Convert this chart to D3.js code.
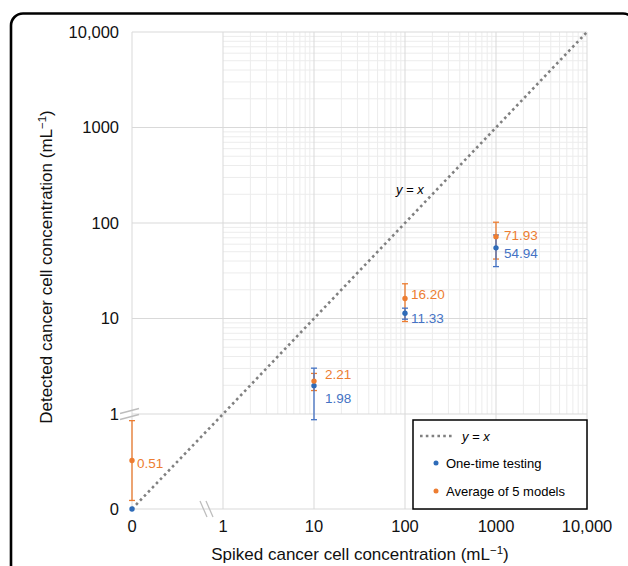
<!DOCTYPE html>
<html>
<head>
<meta charset="utf-8">
<script src="https://cdn.jsdelivr.net/npm/d3@7/dist/d3.min.js"></script>
<style>
  html, body { margin: 0; padding: 0; background: #fff; }
  svg { display: block; font-family: "Liberation Sans", Arial, sans-serif; }
</style>
</head>
<body>
<svg id="chart" width="628" height="566"></svg>
<script>
// ---- data ----
const spiked = [0, 10, 100, 1000];
const oneTime = [0, 1.98, 11.33, 54.94];
const oneTimeErr = [0, 1.04, 1.5, 20];
const avgModels = [0.51, 2.21, 16.20, 71.93];
const avgModelsErr = [0.42, 0.45, 6.9, 30];
const oneTimeLabels = ["", "1.98", "11.33", "54.94"];
const avgLabels = ["0.51", "2.21", "16.20", "71.93"];
const xTicks = [0, 1, 10, 100, 1000, 10000];
const xTickLabels = ["0", "1", "10", "100", "1000", "10,000"];
const yTicks = [0, 1, 10, 100, 1000, 10000];
const yTickLabels = ["0", "1", "10", "100", "1000", "10,000"];
const identityLine = [0, 1, 10000];
const legendLabels = ["y = x", "One-time testing", "Average of 5 models"];

// ---- layout / style ----
const blue = "#4472C4", blueDot = "#2E6BB8", orange = "#ED7D31";
const pLeft = 132, pBrkX = 223, pRight = 587, pTop = 32, pBrkY = 414, pBottom = 509;
// per-label offsets (layout)
const avgLabelOff = [[5, 3], [11, -7], [6, -4], [8, -1]];
const oneLabelOff = [[0, 0], [11, 13], [6, 5], [8, 5]];

const svg = d3.select("#chart");

// piecewise scales: linear 0..1, log 1..10000
const xLin = d3.scaleLinear().domain([0, 1]).range([pLeft, pBrkX]);
const xLog = d3.scaleLog().domain([1, 10000]).range([pBrkX, pRight]);
const yLin = d3.scaleLinear().domain([0, 1]).range([pBottom, pBrkY]);
const yLog = d3.scaleLog().domain([1, 10000]).range([pBrkY, pTop]);
const x = v => v <= 1 ? xLin(v) : xLog(v);
const y = v => v <= 1 ? yLin(v) : yLog(v);

// frame
svg.append("rect").attr("x", 11).attr("y", 13.5).attr("width", 624).attr("height", 600)
  .attr("rx", 12).attr("fill", "none").attr("stroke", "#000").attr("stroke-width", 2.6);

// minor grid
const minors = [];
[1, 10, 100, 1000].forEach(d => { for (let k = 2; k <= 9; k++) minors.push(k * d); });
const g = svg.append("g");
g.selectAll(".mv").data(minors).join("line")
  .attr("x1", d => x(d)).attr("x2", d => x(d)).attr("y1", pTop).attr("y2", pBrkY)
  .attr("stroke", "#ececec").attr("stroke-width", 1);
g.selectAll(".mh").data(minors).join("line")
  .attr("y1", d => y(d)).attr("y2", d => y(d)).attr("x1", pBrkX).attr("x2", pRight)
  .attr("stroke", "#ececec").attr("stroke-width", 1);
// major grid
g.selectAll(".Mv").data(xTicks).join("line")
  .attr("x1", d => x(d)).attr("x2", d => x(d)).attr("y1", pTop).attr("y2", pBottom)
  .attr("stroke", "#d9d9d9").attr("stroke-width", 1);
g.selectAll(".Mh").data(yTicks).join("line")
  .attr("y1", d => y(d)).attr("y2", d => y(d)).attr("x1", pLeft).attr("x2", pRight)
  .attr("stroke", "#d9d9d9").attr("stroke-width", 1);

// axis break marks
const bm = svg.append("g").attr("stroke", "#bdbdbd").attr("stroke-width", 1.3);
[-3, 3].forEach(o => {
  bm.append("line").attr("x1", 120).attr("y1", pBrkY + o + 2.5).attr("x2", 139).attr("y2", pBrkY + o - 2.5);
  bm.append("line").attr("x1", 203 + o).attr("y1", pBottom - 8).attr("x2", 210 + o).attr("y2", pBottom + 8);
});

// identity line
svg.append("path")
  .attr("d", d3.line().x(d => x(d)).y(d => y(d))(identityLine))
  .attr("fill", "none").attr("stroke", "#808080").attr("stroke-width", 2.6)
  .attr("stroke-dasharray", "2.6,3.2");
svg.append("text").attr("x", 396).attr("y", 194).attr("font-size", 13).attr("font-style", "italic")
  .attr("fill", "#000").text(legendLabels[0]);

// error bars
function errBars(vals, errs, color, cls) {
  const idx = d3.range(vals.length).filter(i => errs[i] > 0);
  const eg = svg.append("g").attr("stroke", color).attr("stroke-width", 1.3);
  eg.selectAll("." + cls + "v").data(idx).join("line")
    .attr("x1", i => x(spiked[i])).attr("x2", i => x(spiked[i]))
    .attr("y1", i => y(vals[i] + errs[i])).attr("y2", i => y(vals[i] - errs[i]));
  eg.selectAll("." + cls + "t").data(idx).join("line")
    .attr("x1", i => x(spiked[i]) - 3).attr("x2", i => x(spiked[i]) + 3)
    .attr("y1", i => y(vals[i] + errs[i])).attr("y2", i => y(vals[i] + errs[i]));
  eg.selectAll("." + cls + "b").data(idx).join("line")
    .attr("x1", i => x(spiked[i]) - 3).attr("x2", i => x(spiked[i]) + 3)
    .attr("y1", i => y(vals[i] - errs[i])).attr("y2", i => y(vals[i] - errs[i]));
}
errBars(avgModels, avgModelsErr, orange, "ea");
errBars(oneTime, oneTimeErr, blue, "eo");

// markers
svg.append("g").selectAll("circle").data(d3.range(spiked.length)).join("circle")
  .attr("cx", i => x(spiked[i])).attr("cy", i => y(oneTime[i])).attr("r", 2.7).attr("fill", blueDot);
svg.append("g").selectAll("circle").data(d3.range(spiked.length)).join("circle")
  .attr("cx", i => x(spiked[i])).attr("cy", i => y(avgModels[i])).attr("r", 2.7).attr("fill", orange);

// data labels
svg.append("g").selectAll("text").data(d3.range(spiked.length)).join("text")
  .attr("x", i => x(spiked[i]) + avgLabelOff[i][0]).attr("y", i => y(avgModels[i]) + avgLabelOff[i][1])
  .attr("dy", "0.35em").attr("font-size", 13.5).attr("fill", orange).text(i => avgLabels[i]);
svg.append("g").selectAll("text").data(d3.range(spiked.length).filter(i => oneTimeLabels[i])).join("text")
  .attr("x", i => x(spiked[i]) + oneLabelOff[i][0]).attr("y", i => y(oneTime[i]) + oneLabelOff[i][1])
  .attr("dy", "0.35em").attr("font-size", 13.5).attr("fill", blue).text(i => oneTimeLabels[i]);

// tick labels
svg.append("g").selectAll("text").data(yTicks).join("text")
  .attr("x", 119).attr("y", d => y(d)).attr("dy", "0.36em").attr("text-anchor", "end")
  .attr("font-size", 16.5).attr("fill", "#111").text((d, i) => yTickLabels[i]);
svg.append("g").selectAll("text").data(xTicks).join("text")
  .attr("x", d => x(d)).attr("y", 532).attr("text-anchor", "middle")
  .attr("font-size", 16.5).attr("fill", "#111").text((d, i) => xTickLabels[i]);

// axis titles
const xt = svg.append("text").attr("x", 360).attr("y", 560).attr("text-anchor", "middle")
  .attr("font-size", 17).attr("fill", "#111");
xt.append("tspan").text("Spiked cancer cell concentration (mL");
xt.append("tspan").attr("dy", -6).attr("font-size", 11.5).text("\u22121");
xt.append("tspan").attr("dy", 6).text(")");
const yt = svg.append("text").attr("transform", "translate(52,267) rotate(-90)").attr("text-anchor", "middle")
  .attr("font-size", 17).attr("fill", "#111");
yt.append("tspan").text("Detected cancer cell concentration (mL");
yt.append("tspan").attr("dy", -6).attr("font-size", 11.5).text("\u22121");
yt.append("tspan").attr("dy", 6).text(")");

// legend
const lg = svg.append("g");
lg.append("rect").attr("x", 413).attr("y", 420).attr("width", 174).attr("height", 89)
  .attr("fill", "#fff").attr("stroke", "#000").attr("stroke-width", 1.5);
lg.append("line").attr("x1", 420).attr("x2", 453).attr("y1", 436).attr("y2", 436)
  .attr("stroke", "#808080").attr("stroke-width", 2.6).attr("stroke-dasharray", "2.6,3.2");
lg.append("text").attr("x", 462).attr("y", 436).attr("dy", "0.35em").attr("font-size", 13)
  .attr("font-style", "italic").text(legendLabels[0]);
lg.append("circle").attr("cx", 436).attr("cy", 463).attr("r", 2.5).attr("fill", blueDot);
lg.append("text").attr("x", 446).attr("y", 463).attr("dy", "0.35em").attr("font-size", 13).text(legendLabels[1]);
lg.append("circle").attr("cx", 436).attr("cy", 491).attr("r", 2.5).attr("fill", orange);
lg.append("text").attr("x", 446).attr("y", 491).attr("dy", "0.35em").attr("font-size", 13).text(legendLabels[2]);
</script>
</body>
</html>
